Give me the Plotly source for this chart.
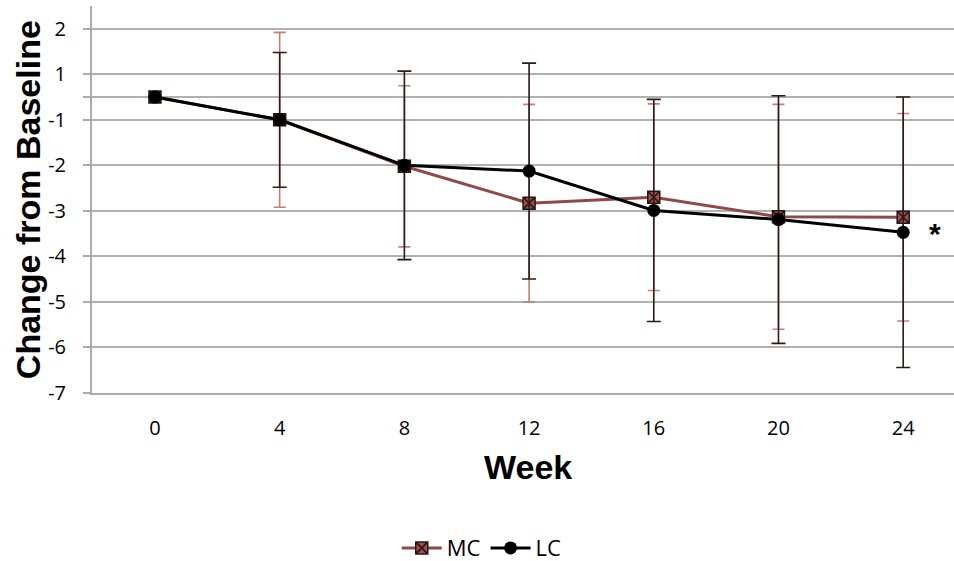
import plotly.graph_objects as go

# Data (values in the chart's y-axis units; week 0 sits on the unlabeled gridline)
weeks = [0, 4, 8, 12, 16, 20, 24]
mc_mean = [-0.5, -1.0, -2.02, -2.83, -2.70, -3.13, -3.14]
mc_err = [0, 1.92, 1.77, 2.17, 2.05, 2.47, 2.28]
lc_mean = [-0.5, -1.0, -2.0, -2.125, -2.99, -3.19, -3.47]
lc_err = [0, 1.48, 2.07, 2.37, 2.44, 2.72, 2.97]

y_tickvals = [1, 0, -0.5, -1, -2, -3, -4, -5, -6, -7]
y_ticktext = ["2", "1", "", "-1", "-2", "-3", "-4", "-5", "-6", "-7"]
x_ticks = weeks

MC_COLOR = "#8F4946"
MC_ERR = "#C97B77"
LC_COLOR = "#000000"
FONT = "Liberation Sans"
TFONT = "Open Sans"

fig = go.Figure()
fig.add_trace(go.Scatter(
    x=weeks, y=mc_mean, name="MC", mode="lines+markers",
    line=dict(color=MC_COLOR, width=3),
    marker=dict(symbol="square-x", size=12, color="#9A504C",
                line=dict(color="#2a1414", width=1.5)),
    error_y=dict(type="data", array=mc_err, visible=True,
                 color=MC_ERR, thickness=1.6, width=6),
))
fig.add_trace(go.Scatter(
    x=weeks, y=lc_mean, name="LC", mode="lines+markers",
    line=dict(color=LC_COLOR, width=3),
    marker=dict(symbol="circle", size=13, color=LC_COLOR),
    error_y=dict(type="data", array=lc_err, visible=True,
                 color="#2b1b1b", thickness=1.6, width=7),
))

fig.add_annotation(x=weeks[-1], y=lc_mean[-1], text="<b>*</b>", showarrow=False,
                   xshift=32, yshift=-1, font=dict(family=FONT, size=30, color="#000"))

fig.update_layout(
    width=954, height=561,
    margin=dict(l=92, r=0, t=6, b=168),
    plot_bgcolor="white", paper_bgcolor="white",
    font=dict(family=FONT, size=18, color="#000"),
    showlegend=True,
    legend=dict(orientation="h", xref="container", yref="container",
                x=0.505, y=0.023, xanchor="center", yanchor="middle",
                font=dict(family=TFONT, size=22, color="#000"),
                itemwidth=40, tracegroupgap=0, bgcolor="rgba(0,0,0,0)"),
    xaxis=dict(range=[-2.02, 25.63], tickvals=x_ticks, ticktext=[str(w) for w in x_ticks],
               showgrid=False, zeroline=False, showline=True, linecolor="#ABABAB",
               linewidth=2, ticks="", ticklabelstandoff=16,
               tickfont=dict(family=TFONT, size=20, color="#000")),
    yaxis=dict(range=[-7, 1.5], tickvals=y_tickvals, ticktext=y_ticktext,
               showgrid=True, gridcolor="#B0B0B0", gridwidth=1.8, zeroline=False,
               showline=True, linecolor="#ABABAB", linewidth=2,
               ticks="outside", ticklen=7, tickcolor="#ABABAB", tickwidth=1.8,
               ticklabelstandoff=13,
               tickfont=dict(family=TFONT, size=20, color="#000")),
)
fig.add_annotation(xref="paper", yref="paper", x=(528 - 92) / 862, y=(392.7 - 467) / 386.7,
                   text="<b>Week</b>", showarrow=False, xanchor="center", yanchor="middle",
                   font=dict(family=FONT, size=34, color="#000"))
fig.add_annotation(xref="paper", yref="paper", x=(28 - 92) / 862, y=(392.7 - 200) / 386.7,
                   text="<b>Change from Baseline</b>", showarrow=False, textangle=-90,
                   xanchor="center", yanchor="middle",
                   font=dict(family=FONT, size=34, color="#000"))

fig.write_html("out.html")
